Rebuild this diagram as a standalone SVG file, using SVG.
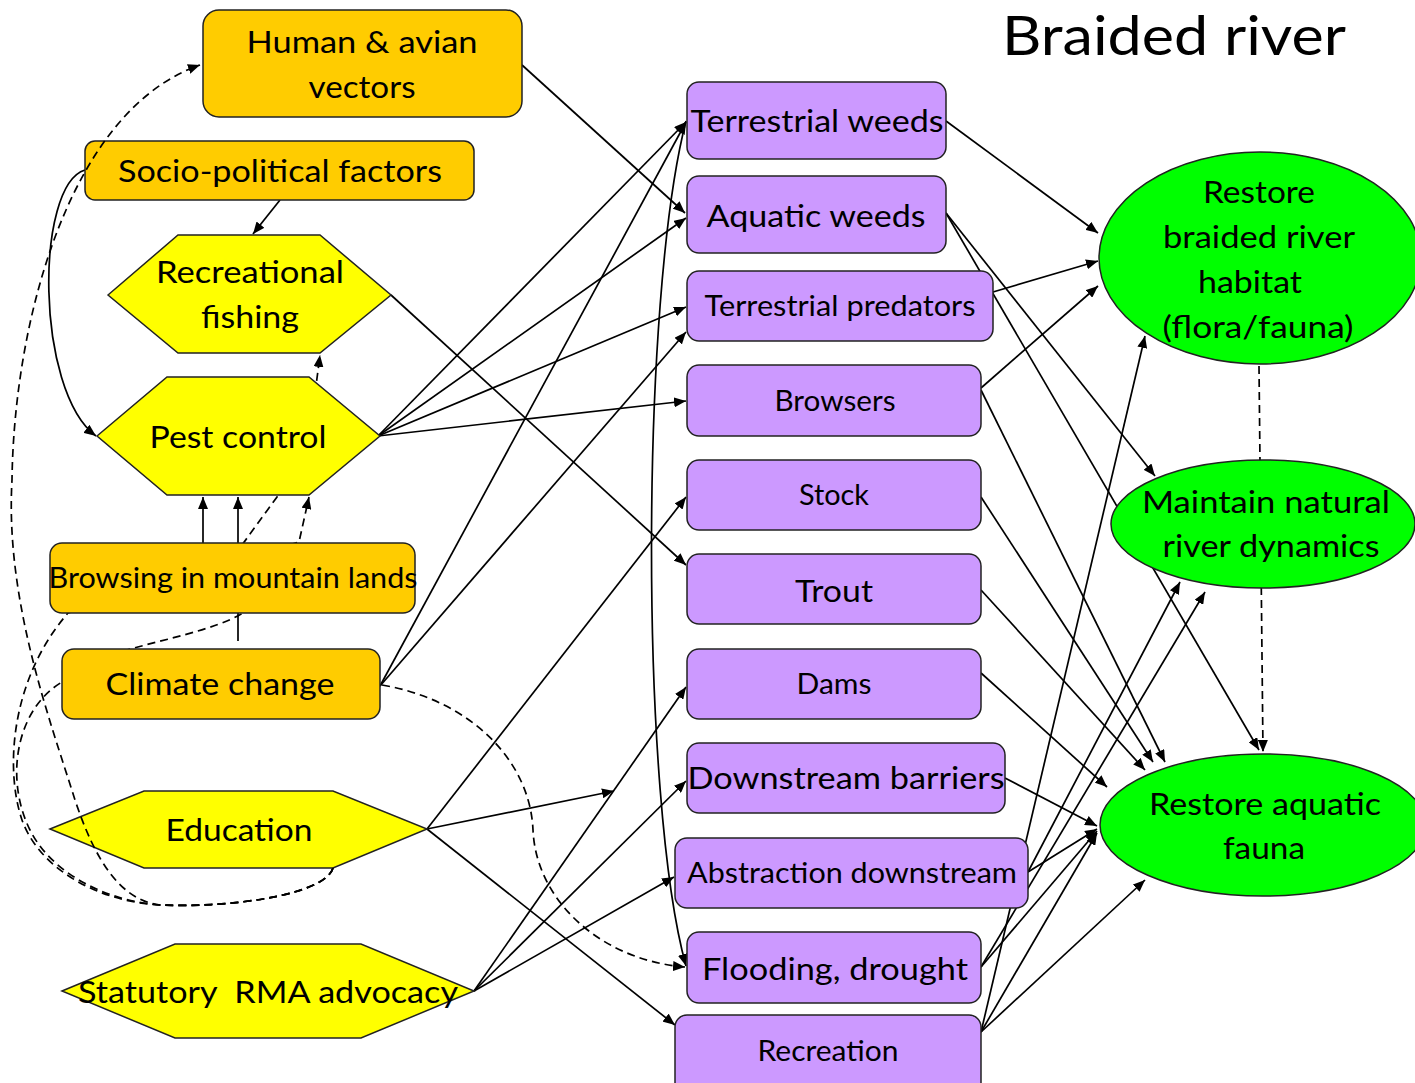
<svg xmlns="http://www.w3.org/2000/svg" width="1415" height="1083" viewBox="0 0 1415 1083">
<style>
.c{fill:none;stroke:#000;stroke-width:1.7;marker-end:url(#arr)}
.n{fill:none;stroke:#000;stroke-width:1.7}
.d{stroke-dasharray:8 5}
.or{fill:#FFCC00;stroke:#222;stroke-width:1.5}
.ye{fill:#FFFF00;stroke:#222;stroke-width:1.5}
.pu{fill:#CC99FF;stroke:#222;stroke-width:1.5}
.gr{fill:#00FF00;stroke:#222;stroke-width:1.5}
text{font-family:Lato,"Liberation Sans",sans-serif;fill:#000;text-anchor:middle}
.b{font-size:31.8px}
.s{font-size:28.7px}
</style>
<defs>
<marker id="arr" markerUnits="userSpaceOnUse" markerWidth="12" markerHeight="10" viewBox="0 0 12 10" refX="12" refY="5" orient="auto">
<path d="M0,0 L12,5 L0,10 z" fill="#000"/>
</marker>
</defs>
<rect width="1415" height="1083" fill="#fff"/>
<g id="connectors">
<path class="c" d="M522,65 L685,213"/>
<path class="c" d="M280,200 L253,234"/>
<path class="c" d="M85,170 C35,185 35,390 96,436"/>
<path class="c" d="M391,295 L686,565"/>
<path class="c" d="M378,436 L686,122"/>
<path class="c" d="M378,436 L686,218"/>
<path class="c" d="M378,436 L686,307"/>
<path class="c" d="M378,436 L686,401"/>
<path class="c" d="M203,543 L203,497"/>
<path class="c" d="M238,641 L238,497"/>
<path class="c" d="M380,686 L686,122"/>
<path class="c" d="M380,686 L686,332"/>
<path class="c" d="M427,829 L686,497"/>
<path class="c" d="M427,829 L614,791"/>
<path class="c" d="M427,829 L675,1025"/>
<path class="c" d="M474,991 L686,687"/>
<path class="c" d="M474,991 L686,781"/>
<path class="c" d="M474,991 L674,877"/>
<path class="c" d="M686,121 C640,300 640,800 686,966"/>
<path class="c" d="M946,121 L1098,233"/>
<path class="c" d="M993,292 L1098,261"/>
<path class="c" d="M981,388 L1098,286"/>
<path class="c" d="M946,213 L1155,476"/>
<path class="c" d="M946,213 L1259,750"/>
<path class="c" d="M981,390 L1165,762"/>
<path class="c" d="M981,497 L1153,762"/>
<path class="c" d="M981,590 L1145,770"/>
<path class="c" d="M981,673 L1107,787"/>
<path class="c" d="M1005,778 L1097,826"/>
<path class="c" d="M1028,872 L1097,829"/>
<path class="c" d="M1028,872 L1180,582"/>
<path class="c" d="M981,967 L1097,831"/>
<path class="c" d="M981,967 L1205,592"/>
<path class="c" d="M981,1032 L1145,336"/>
<path class="c" d="M981,1032 L1097,833"/>
<path class="c" d="M981,1032 L1145,880"/>
<path class="c d" d="M1259,366 L1263,752"/>
<path class="c d" d="M382,685 C470,700 530,760 533,830 C536,900 600,960 685,967"/>
<path class="c d" d="M333,868 C325,895 230,908 160,905 C100,902 40,870 22,820 C5,770 10,680 68,613 L299,542 L309,497"/>
<path class="c d" d="M333,868 C325,895 230,908 160,905 C100,900 50,870 30,830 C5,780 15,710 62,682 L120,652 C160,640 215,630 243,613 L242,545 L277,497 L280,490 L316,386 L320,355"/>
</g>
<g id="nodes">
<g id="human-avian"><rect class="or" x="203" y="10" width="319" height="107" rx="16"/><text class="b" x="362" y="53" textLength="231" lengthAdjust="spacingAndGlyphs">Human &amp; avian</text><text class="b" x="362" y="98" textLength="107" lengthAdjust="spacingAndGlyphs">vectors</text></g>
<g id="socio-political"><rect class="or" x="85" y="141" width="389" height="59" rx="10"/><text class="b" x="280" y="182" textLength="324" lengthAdjust="spacingAndGlyphs">Socio-political factors</text></g>
<g id="recreational-fishing"><polygon class="ye" points="108,295 178,235 320,235 391,295 320,353 178,353"/><text class="b" x="250" y="283" textLength="188" lengthAdjust="spacingAndGlyphs">Recreational</text><text class="b" x="250" y="328" textLength="98" lengthAdjust="spacingAndGlyphs">fishing</text></g>
<g id="pest-control"><polygon class="ye" points="97,436 167,377 309,377 380,436 309,495 167,495"/><text class="b" x="238" y="448" textLength="177" lengthAdjust="spacingAndGlyphs">Pest control</text></g>
<g id="browsing"><rect class="or" x="50" y="543" width="365" height="70" rx="12"/><text class="s" x="233" y="588" textLength="369" lengthAdjust="spacingAndGlyphs">Browsing in mountain lands</text></g>
<g id="climate-change"><rect class="or" x="62" y="649" width="318" height="70" rx="12"/><text class="b" x="220" y="695" textLength="229" lengthAdjust="spacingAndGlyphs">Climate change</text></g>
<g id="education"><polygon class="ye" points="50,829 144,791 333,791 427,829 333,868 144,868"/><text class="b" x="239" y="841" textLength="147" lengthAdjust="spacingAndGlyphs">Education</text></g>
<g id="statutory"><polygon class="ye" points="62,991 175,944 361,944 474,991 361,1038 175,1038"/><text class="b" x="268" y="1003" textLength="380" lengthAdjust="spacingAndGlyphs" xml:space="preserve">Statutory  RMA advocacy</text></g>
<g id="terrestrial-weeds"><rect class="pu" x="687" y="82" width="259" height="77" rx="12"/><text class="b" x="817" y="132" textLength="253" lengthAdjust="spacingAndGlyphs">Terrestrial weeds</text></g>
<g id="aquatic-weeds"><rect class="pu" x="687" y="176" width="259" height="77" rx="12"/><text class="b" x="816" y="227" textLength="219" lengthAdjust="spacingAndGlyphs">Aquatic weeds</text></g>
<g id="terrestrial-predators"><rect class="pu" x="687" y="271" width="306" height="70" rx="12"/><text class="s" x="840" y="316" textLength="271" lengthAdjust="spacingAndGlyphs">Terrestrial predators</text></g>
<g id="browsers"><rect class="pu" x="687" y="365" width="294" height="71" rx="12"/><text class="s" x="835" y="411" textLength="121" lengthAdjust="spacingAndGlyphs">Browsers</text></g>
<g id="stock"><rect class="pu" x="687" y="460" width="294" height="70" rx="12"/><text class="s" x="834" y="505" textLength="70" lengthAdjust="spacingAndGlyphs">Stock</text></g>
<g id="trout"><rect class="pu" x="687" y="554" width="294" height="70" rx="12"/><text class="b" x="834" y="602" textLength="78" lengthAdjust="spacingAndGlyphs">Trout</text></g>
<g id="dams"><rect class="pu" x="687" y="649" width="294" height="70" rx="12"/><text class="s" x="834" y="694" textLength="75" lengthAdjust="spacingAndGlyphs">Dams</text></g>
<g id="downstream-barriers"><rect class="pu" x="687" y="743" width="318" height="70" rx="12"/><text class="b" x="846" y="789" textLength="317" lengthAdjust="spacingAndGlyphs">Downstream barriers</text></g>
<g id="abstraction"><rect class="pu" x="675" y="838" width="353" height="70" rx="12"/><text class="s" x="852" y="883" textLength="330" lengthAdjust="spacingAndGlyphs">Abstraction downstream</text></g>
<g id="flooding"><rect class="pu" x="687" y="932" width="294" height="71" rx="12"/><text class="b" x="835" y="980" textLength="266" lengthAdjust="spacingAndGlyphs">Flooding, drought</text></g>
<g id="recreation"><rect class="pu" x="675" y="1015" width="306" height="80" rx="12"/><text class="s" x="828" y="1061" textLength="141" lengthAdjust="spacingAndGlyphs">Recreation</text></g>
<g id="restore-habitat"><ellipse class="gr" cx="1260" cy="258" rx="161" ry="106"/><text class="b" x="1259" y="203" textLength="112" lengthAdjust="spacingAndGlyphs">Restore</text><text class="b" x="1259" y="248" textLength="192" lengthAdjust="spacingAndGlyphs">braided river</text><text class="b" x="1250" y="293" textLength="104" lengthAdjust="spacingAndGlyphs">habitat</text><text class="b" x="1258" y="338" textLength="191" lengthAdjust="spacingAndGlyphs">(flora/fauna)</text></g>
<g id="maintain-dynamics"><ellipse class="gr" cx="1263" cy="524" rx="152" ry="64"/><text class="b" x="1266" y="513" textLength="248" lengthAdjust="spacingAndGlyphs">Maintain natural</text><text class="b" x="1271" y="557" textLength="217" lengthAdjust="spacingAndGlyphs">river dynamics</text></g>
<g id="restore-aquatic"><ellipse class="gr" cx="1263" cy="825" rx="163" ry="71"/><text class="b" x="1265" y="815" textLength="232" lengthAdjust="spacingAndGlyphs">Restore aquatic</text><text class="b" x="1264" y="859" textLength="82" lengthAdjust="spacingAndGlyphs">fauna</text></g>
</g>
<g id="connectors-front">
<path class="c d" d="M333,868 C325,895 230,908 160,905 C120,900 95,860 75,800 C50,720 5,600 12,480 C14,320 70,110 200,65"/>
</g>
<text id="title" x="1174" y="55" style="font-size:55px" textLength="344" lengthAdjust="spacingAndGlyphs">Braided river</text>
</svg>
